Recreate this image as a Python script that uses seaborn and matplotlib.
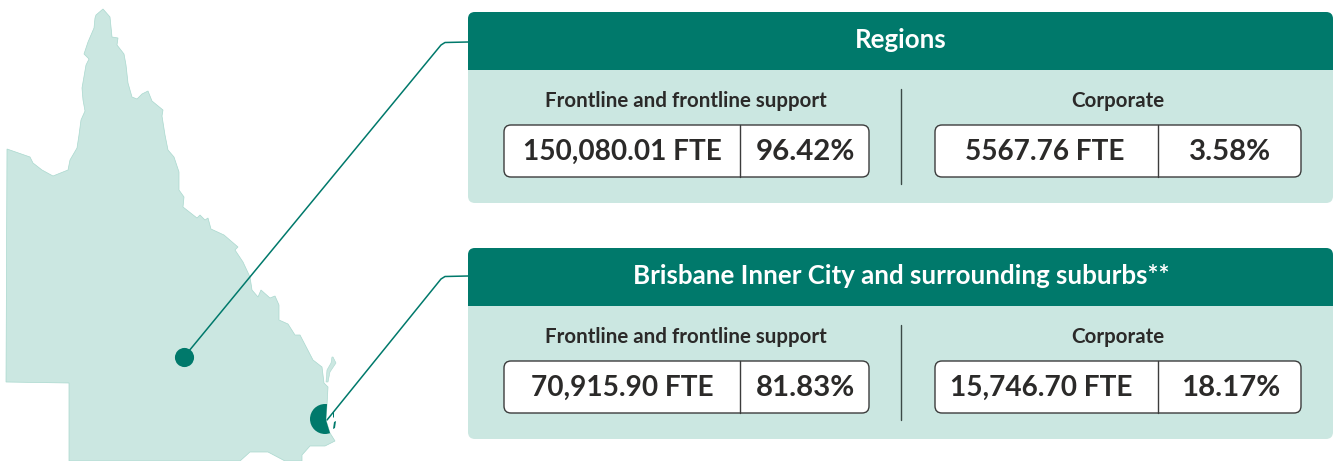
import matplotlib
matplotlib.use('Agg')
import matplotlib.pyplot as plt
import pandas as pd
import seaborn as sns
from matplotlib.patches import Circle, FancyBboxPatch, Polygon, Rectangle

# Values
panel_titles = ['Regions', 'Brisbane Inner City and surrounding suburbs**']
group_labels = ['Frontline and frontline support', 'Corporate']
fte_labels = [['150,080.01 FTE', '5567.76 FTE'], ['70,915.90 FTE', '15,746.70 FTE']]
pct_labels = [['96.42%', '3.58%'], ['81.83%', '18.17%']]

# Queensland outline in pixels
map_x = [7, 30, 33, 42, 53, 68, 70, 77, 79, 81, 85, 83, 82, 86, 89, 84, 88, 94, 95, 96, 103, 110, 112,
         118, 117, 124, 126, 128, 132, 137, 142, 148, 152, 163, 162, 165, 168, 174, 179, 179, 184,
         183, 197, 200, 205, 208, 211, 224, 238, 235, 243, 250, 252, 258, 261, 270, 275, 279, 279,
         288, 295, 300, 313, 322, 324, 328, 327, 326, 330, 335, 325, 310, 302, 302,
         285, 268, 250, 240, 69, 69, 6]
map_y = [149, 157, 163, 170, 176, 170, 160, 148, 135, 120, 111, 100, 88, 65, 59, 54, 42, 28, 18, 15, 9,
         17, 37, 38, 45, 54, 65, 83, 97, 99, 94, 91, 101, 110, 116, 135, 150, 157, 172, 190, 197,
         207, 218, 215, 220, 218, 229, 235, 247, 250, 262, 277, 290, 297, 290, 298, 296, 305, 320,
         324, 335, 335, 360, 367, 383, 387, 405, 420, 433, 441, 446, 446, 455, 461,
         461, 452, 452, 461, 461, 383, 382]
island_x = [332, 333, 336, 330, 328, 326, 327, 331]
island_y = [357, 357, 363, 372, 382, 382, 370, 363]
islet_a_x = [333, 334, 334, 333]
islet_a_y = [412, 412, 418, 417]
islet_b_x = [334, 336, 335, 333]
islet_b_y = [422, 421, 428, 429]

GREEN = '#00796b'
PALE = '#cbe7e1'
EDGE = '#a9d8ce'
DARK = '#2b2a29'

sns.set_style('white')
plt.rcParams['font.family'] = ['Lato', 'DejaVu Sans']

fig, ax = plt.subplots(figsize=(13.33, 4.61), dpi=100)
ax.set_position([0, 0, 1, 1])
ax.set_xlim(0, 1333)
ax.set_ylim(461, 0)
ax.axis('off')

# map
land = Polygon(list(zip(map_x, map_y)), closed=True, facecolor=PALE, edgecolor=EDGE, lw=0.5, zorder=1)
ax.add_patch(land)
ax.fill(island_x, island_y, facecolor=PALE, edgecolor=EDGE, lw=0.4, zorder=1)
ax.fill(islet_a_x, islet_a_y, facecolor=GREEN, edgecolor='none', zorder=2)
ax.fill(islet_b_x, islet_b_y, facecolor=GREEN, edgecolor='none', zorder=2)
city = Circle((325, 419), 15, facecolor=GREEN, edgecolor='none', zorder=2)
ax.add_patch(city)
city.set_clip_path(land)

# leader lines
leaders = pd.DataFrame({
    'x': [184, 441, 445, 468, 327, 441, 445, 468],
    'y': [357, 45, 42.5, 42, 420, 279, 276.5, 276],
    'which': ['a', 'a', 'a', 'a', 'b', 'b', 'b', 'b'],
})
sns.lineplot(data=leaders, x='x', y='y', units='which', estimator=None, sort=False,
             color=GREEN, lw=1.1, ax=ax, zorder=3)
sns.scatterplot(x=[184], y=[357], color=GREEN, s=190, linewidth=0, ax=ax, zorder=4)
ax.set_xlabel('')
ax.set_ylabel('')

# panels
fte_centres = [[622, 1045], [622, 1041]]
for i, top in enumerate([12, 248]):
    panel = FancyBboxPatch((468 + 7, top + 7), 865 - 14, 191 - 14, boxstyle='round,pad=7,rounding_size=7',
                           facecolor=PALE, edgecolor='none', zorder=5)
    ax.add_patch(panel)
    head = FancyBboxPatch((468 + 7, top + 7), 865 - 14, 191 - 14, boxstyle='round,pad=7,rounding_size=7',
                          facecolor=GREEN, edgecolor='none', zorder=6)
    ax.add_patch(head)
    head.set_clip_path(Rectangle((468, top), 865, 58, transform=ax.transData))
    ax.text(901, top + 28, panel_titles[i], color='white', fontsize=18.6, fontweight='bold',
            ha='center', va='center', zorder=7)
    ax.plot([901, 901], [top + 77, top + 172], color='#3c4a47', lw=1, zorder=7)

    for j, (box_l, box_r, split) in enumerate([(504, 869, 740), (935, 1301, 1158)]):
        label_c = 686 if j == 0 else 1118
        ax.text(label_c, top + 89, group_labels[j], color=DARK, fontsize=14.8, fontweight='bold',
                ha='center', va='center', zorder=7)
        ax.add_patch(FancyBboxPatch((box_l + 7, top + 120), box_r - box_l - 14, 38,
                                    boxstyle='round,pad=7,rounding_size=7', facecolor='white',
                                    edgecolor='#3c3c3c', lw=1, zorder=7))
        ax.plot([split, split], [top + 113, top + 165], color='#3c3c3c', lw=1, zorder=8)
        ax.text(fte_centres[i][j], top + 140, fte_labels[i][j], color=DARK, fontsize=20.2, fontweight='bold',
                ha='center', va='center', zorder=8)
        ax.text((split + box_r) / 2 + 1, top + 140, pct_labels[i][j], color=DARK, fontsize=21.2, fontweight='bold',
                ha='center', va='center', zorder=8)

plt.savefig('out.png', dpi=100)
